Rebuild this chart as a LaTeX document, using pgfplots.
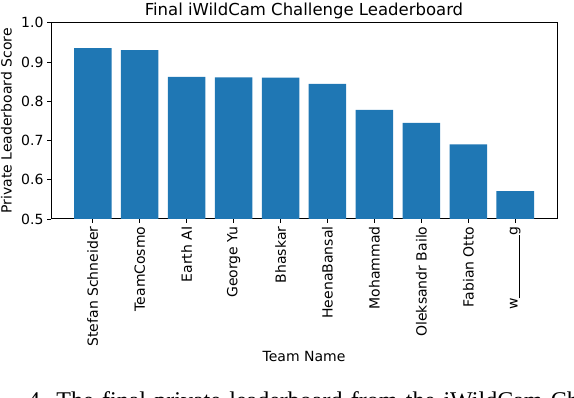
\documentclass[border=0pt]{standalone}
\usepackage{pgfplots}
\pgfplotsset{compat=1.18}
\usepackage{fontspec}
\setmainfont{DejaVu Sans}
\newfontfamily\capfont{Liberation Serif}
\definecolor{mplblue}{HTML}{1F77B4}
\begin{document}
\begin{tikzpicture}[x=1pt,y=1pt]
\begin{axis}[
  at={(51pt,179pt)}, anchor=south west,
  scale only axis, width=506pt, height=196.3pt,
  xmin=-0.89, xmax=9.89, ymin=0.5, ymax=1.0,
  ybar, bar width=0.8, bar shift=0pt,
  xtick={0,1,2,3,4,5,6,7,8,9},
  xticklabels={Stefan Schneider,TeamCosmo,Earth AI,George Yu,Bhaskar,HeenaBansal,Mohammad,Oleksandr Bailo,Fabian Otto,{w\rule[-2.3pt]{63pt}{0.9pt}g}},
  xticklabel style={rotate=90, anchor=east, font=\fontsize{14}{14}\selectfont},
  ytick={0.5,0.6,0.7,0.8,0.9,1.0},
  yticklabel style={/pgf/number format/fixed, /pgf/number format/precision=1, /pgf/number format/fixed zerofill, font=\fontsize{14}{14}\selectfont},
  /pgf/number format/assume math mode=true,
  tick align=outside, major tick length=4pt, tick pos=left,
  tick style={black, line width=0.9pt},
  axis line style={line width=1pt},
  every axis title shift=0pt,
  title={Final iWildCam Challenge Leaderboard},
  title style={at={(axis description cs:0.5,1.062)}, anchor=center, inner sep=0pt, font=\fontsize{16.5}{16.5}\selectfont},
  xlabel={Team Name},
  xlabel style={at={(axis description cs:0.5,-0.703)}, anchor=center, inner sep=0pt, font=\fontsize{14}{14}\selectfont},
  ylabel={Private Leaderboard Score},
  ylabel style={at={(axis description cs:-0.088,0.5)}, anchor=center, inner sep=0pt, font=\fontsize{14}{14}\selectfont},
]
\addplot[fill=mplblue, draw=none] coordinates {
  (0,0.935) (1,0.930) (2,0.862) (3,0.861) (4,0.860)
  (5,0.844) (6,0.778) (7,0.745) (8,0.690) (9,0.571)
};
\end{axis}
\node[anchor=north west, inner sep=0pt, font=\capfont\fontsize{24}{24}\selectfont] at (28,7) {\spaceskip=8.3pt 4. The final private leaderboard from the iWildCam Challenge};
\pgfresetboundingbox
\path[use as bounding box] (0,0) rectangle (574,398);
\end{tikzpicture}
\end{document}
